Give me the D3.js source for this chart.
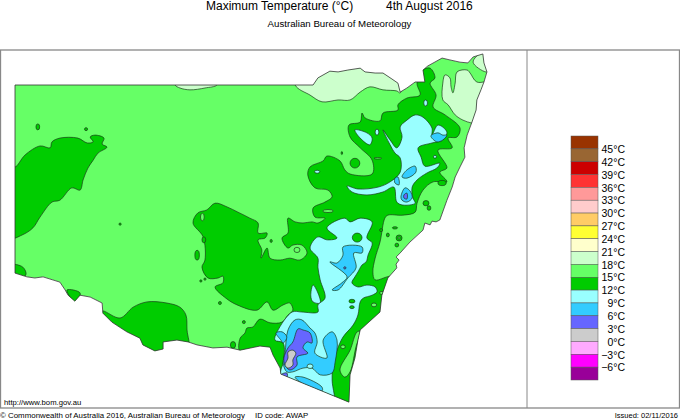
<!DOCTYPE html>
<html>
<head>
<meta charset="utf-8">
<script src="https://cdn.jsdelivr.net/npm/d3@7"></script>
<style>
  html, body { margin: 0; padding: 0; background: #fff; }
  svg { display: block; }
  text { font-family: "Liberation Sans", Arial, sans-serif; fill: #000; }
</style>
</head>
<body>
<div id="visual"></div>
<script>
// all outlines are [longitude, latitude]
const stateOutline = [[141.00,-29.00],[148.97,-29.00],[149.10,-28.81],[149.42,-28.63],[149.64,-28.65],[149.90,-28.60],[150.23,-28.55],[150.36,-28.65],[150.63,-28.68],[150.84,-28.68],[151.08,-28.84],[151.24,-28.95],[151.30,-29.19],[151.48,-29.08],[151.70,-28.92],[151.96,-28.92],[151.91,-28.60],[152.04,-28.49],[152.42,-28.28],[152.63,-28.33],[152.90,-28.39],[153.11,-28.41],[153.25,-28.25],[153.51,-28.17],[153.54,-28.41],[153.62,-28.65],[153.54,-28.92],[153.46,-29.13],[153.35,-29.40],[153.33,-29.67],[153.22,-29.99],[153.09,-30.34],[153.01,-30.68],[153.03,-30.93],[152.90,-31.19],[152.77,-31.46],[152.69,-31.73],[152.55,-32.08],[152.36,-32.61],[152.26,-32.66],[152.15,-32.64],[152.10,-32.74],[151.96,-32.69],[151.91,-32.88],[151.56,-33.20],[151.30,-33.49],[151.19,-33.60],[151.27,-33.68],[151.19,-33.79],[151.21,-33.89],[150.97,-34.16],[150.81,-34.62],[150.76,-35.07],[150.44,-35.36],[150.23,-35.55],[150.17,-35.82],[150.09,-36.30],[149.96,-36.75],[149.93,-37.48],[148.11,-36.73],[148.09,-36.57],[147.90,-36.22],[147.82,-36.01],[147.55,-35.98],[147.02,-36.09],[146.67,-36.01],[146.29,-36.03],[145.87,-35.95],[145.63,-35.87],[145.33,-35.82],[144.96,-35.87],[144.96,-36.06],[144.74,-36.11],[144.42,-35.95],[144.34,-35.77],[143.99,-35.60],[143.59,-35.34],[143.35,-35.10],[143.33,-34.83],[143.01,-34.67],[142.74,-34.62],[142.60,-34.78],[142.42,-34.62],[142.34,-34.48],[142.20,-34.27],[141.75,-34.13],[141.53,-34.16],[141.32,-34.13],[141.00,-34.03]];

const band18 = [
  [[148.49,-29.00],[148.89,-29.27],[149.21,-29.45],[149.64,-29.40],[149.96,-29.40],[150.23,-29.19],[150.49,-29.05],[150.84,-29.13],[151.21,-29.16],[151.30,-29.21],[151.35,-28.33],[148.49,-28.33]],
  [[145.28,-29.00],[145.41,-29.08],[145.68,-29.13],[146.08,-29.08],[146.40,-29.00],[146.40,-28.87],[145.28,-28.87]],
  [[152.44,-28.95],[152.50,-28.73],[152.63,-28.81],[152.66,-29.05],[152.71,-29.21],[152.77,-28.95],[152.82,-28.65],[153.09,-28.60],[153.17,-28.68],[153.35,-28.92],[153.83,-28.92],[153.57,-30.07],[153.22,-30.02],[152.98,-29.94],[152.77,-29.80],[152.58,-29.53],[152.44,-29.40]],
  [[153.25,-28.39],[153.49,-28.12],[153.70,-28.12],[153.70,-28.60],[153.59,-28.65]]
];

const band12 = [
  [[145.76,-32.69],[145.89,-32.42],[146.13,-32.34],[146.35,-32.16],[146.67,-32.26],[146.96,-32.40],[147.28,-32.56],[147.50,-32.69],[147.50,-32.96],[147.74,-32.96],[147.69,-33.09],[147.50,-33.14],[147.60,-33.41],[147.58,-33.63],[147.74,-33.36],[147.82,-33.63],[148.09,-33.68],[148.35,-33.63],[148.62,-33.68],[148.81,-33.49],[148.67,-33.28],[148.43,-33.28],[148.30,-33.36],[148.14,-33.09],[148.30,-32.96],[148.30,-32.56],[148.49,-32.66],[148.70,-32.69],[148.94,-32.66],[149.10,-32.69],[149.29,-32.56],[149.02,-32.53],[148.97,-32.29],[149.29,-32.13],[149.48,-31.99],[149.37,-31.81],[149.02,-31.75],[148.83,-31.41],[148.89,-31.19],[149.24,-31.03],[149.34,-30.90],[149.69,-31.03],[149.82,-31.27],[149.96,-31.38],[150.55,-31.38],[150.55,-31.01],[150.23,-30.68],[149.96,-30.39],[149.93,-30.07],[150.23,-29.99],[150.28,-29.75],[150.36,-29.88],[150.76,-29.96],[150.84,-29.75],[151.24,-29.67],[151.24,-29.53],[151.48,-29.35],[151.83,-29.27],[151.75,-28.95],[151.91,-28.60],[152.10,-28.55],[152.23,-28.81],[152.10,-28.95],[152.26,-29.27],[152.18,-29.59],[152.50,-29.80],[152.90,-30.15],[152.82,-30.39],[152.58,-30.42],[152.69,-30.68],[152.31,-30.74],[152.55,-31.22],[152.36,-31.33],[152.55,-31.59],[152.18,-31.59],[151.91,-31.81],[151.75,-32.16],[151.70,-32.40],[151.37,-32.48],[150.97,-32.48],[150.89,-32.56],[150.76,-33.20],[150.63,-33.63],[150.57,-34.00],[150.63,-34.21],[151.11,-34.13],[151.16,-35.28],[150.49,-37.69],[147.82,-36.75],[147.60,-36.22],[147.02,-36.14],[147.02,-35.77],[147.15,-35.63],[147.20,-35.50],[147.36,-35.47],[147.55,-35.26],[147.82,-35.36],[148.14,-35.34],[148.30,-35.15],[148.43,-35.02],[148.35,-34.83],[148.17,-34.88],[147.90,-35.02],[147.74,-34.80],[147.47,-35.02],[146.94,-34.88],[146.64,-34.70],[146.35,-34.40],[146.56,-34.29],[146.56,-34.11],[146.43,-34.16],[146.16,-34.16],[146.00,-33.87],[146.08,-33.68],[146.03,-33.06]],
  [[141.00,-31.19],[141.27,-30.87],[141.67,-30.63],[141.94,-30.68],[141.99,-30.52],[142.20,-30.42],[142.68,-30.42],[142.93,-30.55],[143.09,-30.52],[143.01,-30.39],[143.14,-30.34],[143.38,-30.42],[143.33,-30.58],[143.46,-30.66],[143.22,-30.82],[143.09,-31.01],[142.95,-31.22],[142.82,-31.54],[142.74,-31.81],[142.52,-31.75],[142.20,-32.08],[141.99,-32.13],[141.67,-32.53],[141.48,-32.82],[141.19,-33.01],[140.87,-33.09],[140.87,-31.01]],
  [[140.87,-33.81],[141.21,-33.87],[141.29,-34.08],[140.87,-34.21]],
  [[142.39,-34.48],[142.74,-34.56],[142.63,-34.83],[142.47,-34.67]],
  [[143.27,-35.07],[143.35,-35.04],[143.81,-35.23],[144.16,-34.94],[144.53,-34.80],[145.06,-34.83],[145.41,-34.94],[145.57,-35.15],[145.60,-35.55],[145.63,-36.09],[145.01,-36.49],[144.61,-36.49],[143.27,-35.55]]
];

const band15Holes = [
  [[150.28,-35.58],[150.15,-35.60],[149.96,-36.09],[149.69,-36.62],[149.82,-36.81],[149.96,-36.67],[150.15,-35.90],[150.36,-35.50]]
];

const band9 = [
  [[150.84,-30.20],[151.03,-30.47],[151.21,-30.68],[151.35,-30.39],[151.30,-30.12],[151.48,-29.94],[151.70,-29.80],[151.91,-29.86],[152.15,-30.15],[152.15,-30.34],[152.31,-30.07],[152.55,-30.26],[152.44,-30.47],[152.15,-30.55],[151.78,-30.68],[151.86,-30.93],[151.96,-31.17],[152.36,-31.09],[152.28,-31.22],[152.02,-31.35],[151.75,-31.54],[151.62,-31.73],[151.64,-32.02],[151.70,-32.16],[151.37,-32.21],[151.21,-32.13],[151.13,-31.73],[150.84,-31.86],[150.41,-31.94],[150.01,-31.86],[149.88,-31.70],[150.17,-31.78],[150.71,-31.73],[151.03,-31.59],[151.30,-31.33],[151.30,-30.95],[151.16,-30.82],[151.03,-30.60]],
  [[150.09,-30.20],[150.41,-30.28],[150.55,-30.42],[150.49,-30.60],[150.23,-30.42]],
  [[148.91,-34.64],[148.97,-34.35],[149.10,-34.56],[149.16,-34.83],[148.97,-34.80]],
  [[149.34,-32.82],[149.61,-33.09],[149.34,-33.14],[149.10,-33.06],[148.89,-33.36],[149.10,-33.63],[149.10,-33.87],[149.16,-34.21],[149.29,-34.70],[149.10,-34.88],[149.10,-35.07],[148.67,-35.07],[148.41,-35.07],[148.01,-35.60],[147.95,-35.82],[148.17,-35.90],[148.17,-36.43],[148.11,-36.62],[148.09,-37.02],[149.50,-37.56],[149.48,-36.89],[149.50,-36.43],[149.61,-36.09],[149.77,-35.74],[150.04,-35.42],[150.17,-35.15],[150.23,-34.80],[150.31,-34.70],[150.55,-34.62],[150.68,-34.53],[150.63,-34.40],[150.41,-34.35],[150.17,-34.40],[150.01,-34.29],[150.09,-34.13],[150.17,-34.00],[150.28,-33.81],[150.39,-33.73],[150.44,-33.55],[150.55,-33.22],[150.41,-33.09],[150.55,-32.66],[150.23,-32.56],[149.96,-32.66],[149.82,-32.56]]
];

const band6 = [
  [[152.12,-30.36],[152.31,-30.28],[152.44,-30.34],[152.55,-30.34],[152.44,-30.47],[152.28,-30.52]],
  [[151.35,-31.46],[151.48,-31.27],[151.70,-31.17],[151.72,-31.33],[151.48,-31.49]],
  [[151.16,-31.49],[151.24,-31.46],[151.27,-31.67],[151.16,-31.62]],
  [[151.32,-31.99],[151.43,-31.75],[151.56,-31.83],[151.62,-32.02],[151.48,-32.13],[151.35,-32.08]],
  [[149.77,-33.33],[150.28,-33.33],[150.28,-33.49],[150.06,-33.49],[150.12,-33.89],[149.90,-34.16],[149.64,-34.48],[149.48,-34.48],[149.74,-34.29],[149.88,-34.13],[149.42,-33.73],[149.61,-33.76],[149.77,-33.55]],
  [[148.30,-35.55],[148.49,-35.28],[148.67,-35.28],[148.89,-35.50],[149.02,-35.63],[149.08,-35.87],[149.02,-36.17],[149.34,-36.30],[149.24,-35.82],[149.48,-35.60],[149.61,-35.82],[149.56,-36.41],[149.48,-36.70],[149.16,-36.75],[148.94,-36.57],[148.70,-36.57],[148.43,-36.67],[148.27,-36.67],[148.17,-36.43],[148.22,-36.17]],
  [[147.98,-35.63],[148.14,-35.60],[148.27,-35.74],[148.17,-35.90],[148.11,-35.82]],
  [[148.49,-36.81],[148.70,-36.81],[149.21,-37.08],[149.21,-37.18],[148.67,-36.97]]
];

const band3 = [
  [[151.40,-31.94],[151.48,-31.89],[151.48,-32.05],[151.40,-32.02]],
  [[148.57,-35.52],[148.70,-35.55],[148.89,-35.63],[148.94,-35.90],[148.81,-35.87],[148.70,-36.03],[148.83,-36.17],[148.54,-36.27],[148.54,-36.49],[148.35,-36.62],[148.22,-36.49],[148.19,-36.30],[148.30,-36.03],[148.43,-35.87]],
  [[148.11,-36.75],[148.27,-36.70],[148.27,-36.84],[148.11,-36.89]]
];

const band0 = [
  [[148.30,-36.14],[148.43,-36.09],[148.51,-36.17],[148.43,-36.35],[148.43,-36.49],[148.30,-36.57],[148.22,-36.49],[148.30,-36.30]]
];

// little closed contours: [lon, lat, half width, half height] in degrees
const spots12 = [[141.61,-30.12,.05,.08],[142.90,-30.18,.04,.04],[150.09,-31.09,.13,.13],[152.42,-31.62,.11,.07],[151.99,-32.16,.08,.07],[152.07,-32.29,.05,.06],[145.87,-33.55,.06,.13],[146.05,-33.14,.05,.08],[146.48,-34.83,.04,.04],[146.08,-34.19,.03,.03],[145.97,-34.24,.03,.03],[147.12,-35.34,.04,.04],[143.81,-32.72,.03,.03],[147.85,-33.17,.03,.04],[146.83,-35.95,.07,.09],[149.74,-30.82,.02,.04],[150.01,-36.27,.05,.05],[151.27,-33.09,.08,.08],[151.21,-33.28,.05,.05],[151.16,-32.82,.07,.03],[150.97,-33.01,.04,.05],[150.79,-32.88,.04,.04]];
const spots15 = [[146.01,-32.53,.05,.10],[149.37,-32.37,.14,.04],[148.54,-33.41,.08,.07],[150.60,-34.88,.07,.05],[149.77,-36.00,.06,.05],[150.70,-30.96,.1,.02],[151.27,-33.09,.03,.03],[150.81,-34.56,.06,.04]];
const spots9 = [[150.68,-30.26,.05,.08],[151.98,-29.48,.05,.08],[149.08,-31.32,.07,.04],[152.23,-30.92,.04,.04],[148.89,-36.52,.08,.06]];
const spots12Over9 = [[150.01,-34.78,.08,.05],[150.01,-34.94,.06,.04],[150.15,-33.08,.13,.12]];
const spots3 = [[149.82,-33.89,.03,.03]];

// legend, top swatch first
const legendColors = ["#993300","#996633","#cc0000","#ff3333","#ff9999","#ffcccc","#ffcc66","#ffff33","#ffffcc","#ccffcc","#66ff66","#00cc00","#99ffff","#33ccff","#6666ff","#cccccc","#ffaaff","#ff00ff","#990099"];
const legendLabels = ["45°C","42°C","39°C","36°C","33°C","30°C","27°C","24°C","21°C","18°C","15°C","12°C","9°C","6°C","3°C","0°C","−3°C","−6°C"];

const width = 680, height = 420;
const svg = d3.select("#visual").append("svg").attr("width", width).attr("height", height);

// 37.4 px per degree both ways
const x = d3.scaleLinear().domain([141, 153.6]).range([15, 486.2]);
const y = d3.scaleLinear().domain([-29, -37.5]).range([85, 402.9]);

const coast = d3.line().x(d => x(d[0])).y(d => y(d[1])).curve(d3.curveLinearClosed);
const contour = d3.line().x(d => x(d[0])).y(d => y(d[1])).curve(d3.curveCatmullRomClosed.alpha(0.5));

// frame
svg.append("rect").attr("x", 0.5).attr("y", 50).attr("width", 679).attr("height", 358)
  .attr("fill", "none").attr("stroke", "#888").attr("stroke-width", 1.3);
svg.append("line").attr("x1", 527).attr("x2", 527).attr("y1", 50).attr("y2", 408)
  .attr("stroke", "#888").attr("stroke-width", 1);

svg.append("clipPath").attr("id", "nsw").append("path").attr("d", coast(stateOutline));

const map = svg.append("g").attr("clip-path", "url(#nsw)");

map.append("path").attr("d", coast(stateOutline)).attr("fill", "#66ff66");

function drawBand(list, color) {
  map.append("g").selectAll("path").data(list).enter().append("path")
    .attr("d", d => contour(d))
    .attr("fill", color)
    .attr("stroke", "#1a3a1a")
    .attr("stroke-width", 0.7);
}

function drawSpots(list, color) {
  map.append("g").selectAll("ellipse").data(list).enter().append("ellipse")
    .attr("cx", d => x(d[0]))
    .attr("cy", d => y(d[1]))
    .attr("rx", d => x(141 + d[2]) - x(141))
    .attr("ry", d => y(-29 - d[3]) - y(-29))
    .attr("fill", color)
    .attr("stroke", "#1a3a1a")
    .attr("stroke-width", 0.7);
}

drawBand(band18, "#ccffcc");
drawBand(band12, "#00cc00");
drawSpots(spots12, "#00cc00");
drawBand(band15Holes, "#66ff66");
drawSpots(spots15, "#66ff66");
drawBand(band9, "#99ffff");
drawSpots(spots12Over9, "#00cc00");
drawBand(band6, "#33ccff");
drawSpots(spots9, "#99ffff");
drawBand(band3, "#6666ff");
drawSpots(spots3, "#6666ff");
drawBand(band0, "#cccccc");

svg.append("path").attr("d", coast(stateOutline))
  .attr("fill", "none").attr("stroke", "#333").attr("stroke-width", 0.8);

// legend
const legendY = d3.scaleBand().domain(d3.range(legendColors.length)).range([136, 380]);

svg.append("g").selectAll("rect").data(legendColors).enter().append("rect")
  .attr("x", 571).attr("width", 27)
  .attr("y", (d, i) => legendY(i)).attr("height", legendY.bandwidth())
  .attr("fill", d => d).attr("stroke", "#555").attr("stroke-width", 0.5);

svg.append("g").selectAll("text").data(legendLabels).enter().append("text")
  .attr("x", 625)
  .attr("y", (d, i) => legendY(i + 1))
  .attr("dy", "0.4em")
  .attr("text-anchor", "end")
  .attr("font-size", 10.5)
  .text(d => d);

// titles and footer
function label(txt, px, py, size, anchor) {
  svg.append("text").attr("x", px).attr("y", py).attr("font-size", size)
    .attr("text-anchor", anchor || "start").text(txt);
}
label("Maximum Temperature (°C)", 206, 10, 12);
label("4th August 2016", 386, 10, 12);
label("Australian Bureau of Meteorology", 339.5, 27, 9.7, "middle");
label("http://www.bom.gov.au", 4, 405, 7.7);
label("© Commonwealth of Australia 2016, Australian Bureau of Meteorology", 0, 418, 7.9);
label("ID code: AWAP", 255, 418, 7.8);
label("Issued: 02/11/2016", 678, 418, 7.5, "end");
</script>
</body>
</html>
